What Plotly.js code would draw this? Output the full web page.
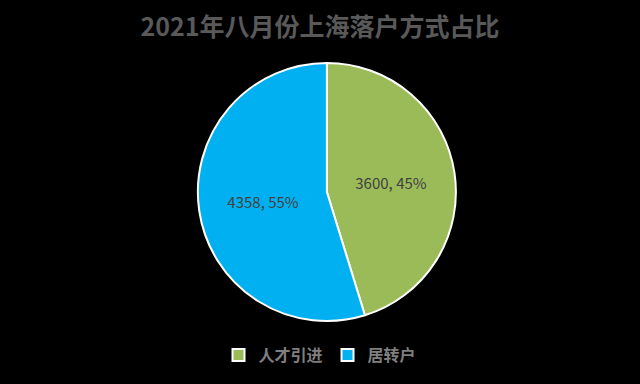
<!DOCTYPE html>
<html><head><meta charset="utf-8">
<script src="https://cdn.plot.ly/plotly-3.0.1.min.js"></script>
<style>html,body{margin:0;padding:0;background:#000;}</style>
</head><body><div id="chart" style="width:640px;height:384px;"></div>
<script>
const categories = ['人才引进', '居转户'];
const values = [3600, 4358];
const colors = ['#9BBB59', '#00B0F0'];
const titleText = '2021年八月份上海落户方式占比';

const font = '"Noto Sans CJK SC", "Open Sans", sans-serif';
Plotly.newPlot('chart', [{
  type: 'pie',
  labels: categories,
  values: values,
  sort: false,
  direction: 'clockwise',
  rotation: 0,
  marker: {colors: colors, line: {color: '#FFFFFF', width: 2}},
  textinfo: 'text',
  texttemplate: '%{value}, %{percent:.0%}',
  textposition: 'inside',
  insidetextorientation: 'horizontal',
  textfont: {family: font, size: 15, color: '#404040'},
  domain: {x: [0.309, 0.7125], y: [0.164, 0.836]},
  hoverinfo: 'none'
}], {
  width: 640, height: 384,
  paper_bgcolor: '#000000', plot_bgcolor: '#000000',
  margin: {l: 0, r: 0, t: 0, b: 0},
  title: {text: titleText, x: 0.5, xanchor: 'center', y: 0.93, yanchor: 'middle',
          font: {family: font, size: 25, color: '#595959', weight: 'bold'}},
  showlegend: true,
  legend: {orientation: 'h', x: 0.5, xanchor: 'center', y: 0.075, yanchor: 'middle',
           font: {family: font, size: 16, color: '#7F7F7F', weight: 'bold'}, itemwidth: 30, traceorder: 'normal'},
  font: {family: font}
}, {staticPlot: true});
</script></body></html>
